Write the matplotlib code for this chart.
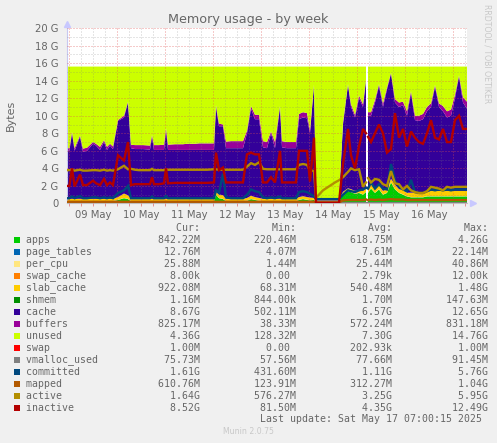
import matplotlib
matplotlib.use("Agg")
import matplotlib.pyplot as plt
import numpy as np
from matplotlib.patches import Rectangle
from matplotlib.ticker import FixedLocator, FuncFormatter

nan = float("nan")

# hours since 8 May 23:00; samples sit closer together around the narrow spikes and the outage
hours = [0, 1.2, 2.5, 3.8, 6.5, 8, 10, 13, 14.5, 16.5, 18.5, 20, 21.5, 23, 25.5, 28.5, 30.5, 32, 34, 36, 38,
         41.5, 42.5, 43.5, 46, 48.5, 49.5, 50.5, 54, 56, 58, 60, 62, 64, 66, 68, 70, 73.5, 74.5, 76, 78,
         79.5, 82, 84, 86, 88, 90, 92, 94, 96, 98, 100, 102, 104, 106.5, 107.5, 110, 112, 114.5, 116, 118,
         120, 121.5, 123.5, 124.5, 128, 130, 132, 134, 136, 138, 140.5, 142, 144, 146, 148, 149.5, 150, 150.5,
         152, 154, 156, 158, 160, 162, 164, 166, 168, 170, 172, 174, 176, 178, 180, 182, 184, 186, 188, 190, 192, 194, 196, 198, 200]
N = len(hours)

# GiB per sample
apps = [.25]*14 + [.4, .6, .5] + [.25]*21 + [1.0, .6, .5] + [.25]*5 + [.3, .5, .4, .3] + [.25]*9 + [.4, .5, .4, .35, .4] \
    + [.22]*6 + [1.0, 1.4, 1.3, 1.1, 1.2, 1.0, 1.3, nan, 1.2, 1.7, 1.2, 1.6, 1.0, 1.2, 2.4, 1.6, 1.2, 1.0, .8, .7, .7, .7, .7, .8] + [.8]*10
slab_cache = [.25]*14 + [.3, .5, .4] + [.25]*21 + [.3, .4, .4] + [.25]*5 + [.3, .35, .3, .3] + [.25]*9 + [.3, .3, .3, .3, .2] \
    + [.1]*6 + [.3, .3, .3, .3, .3, .4, .4, nan, .5, .5, .4, .5, .4, .4, .4, .5, .4, .5, .4, .5, .5, .4, .4, .5] + [.6]*10
cache = [5.47, 5.47, 7.47, 5.47, 7.07, 5.37, 5.47, 6.27, 6.07, 5.57, 6.47, 5.57, 6.07, 5.67, 8.67, 8.67, 10.57, 5.77, 5.67, 5.67, 5.67,
         5.62, 7.07, 5.57, 5.57, 5.57, 7.87, 5.57, 5.57, 5.57, 5.57, 5.57, 5.57, 5.57, 5.57, 5.57, 5.57, 5.57, 9.67, 7.77, 7.87,
         5.77, 5.77, 5.77, 5.77, 5.77, 7.37, 9.92, 8.87, 8.97, 5.87, 5.77, 7.47, 5.77, 10.47, 5.87, 5.77, 5.77, 5.77, 8.87, 8.97,
         8.97, 7.32, 12.87, .2, .2, .2, .2, .2, .25, 7.67, 11.77, 9.37, 8.37, 10.47, 9.57, 12.27, nan, 8.27, 7.77, 9.87,
         11.27, 9.57, 11.37, 11.97, 9.37, 9.37, 9.67, 8.77, 11.37, 8.27, 8.27, 8.47, 9.17, 9.57, 11.87, 9.57, 9.07, 8.37, 8.57, 10.57,
         13.07, 10.07, 9.37]
buffers = [.3, .3, .15, .3, .15, .35, .35, .2, .2, .35, .2, .35, .2, .3, .1, .2, .1, .4, .45, .45, .45,
           .45, .2, .55, .55, .6, .2, .6, .65, .65, .65, .7, .7, .7, .75, .75, .75, .75, .2, .3, .2,
           .75, .8, .8, .8, .8, .3, .3, .5, .5, .7, .7, .2, .7, .1, .7, .7, .7, .7, .6, .6,
           .6, .3, .05, .04, .04, .04, .04, .04, .04, .2, .1, .3, .3, .3, .3, .1, nan, .4, .4, .3,
           .2, .4, .2, .1, .4, .5, .4, .5, .2, .5, .6, .6, .5, .4, .2, .4, .6, .7, .7, .4,
           .1, .6, .8]
unused = [9.3, 9.3, 7.45, 9.3, 7.85, 9.35, 9.25, 8.6, 8.8, 9.15, 8.4, 9.15, 8.8, 9.1, 6.1, 5.6, 4.0, 8.9, 8.95, 8.95, 8.95,
          9.0, 7.8, 8.95, 8.95, 8.9, 7.0, 8.9, 8.85, 8.85, 8.85, 8.8, 8.8, 8.8, 8.75, 8.75, 8.75, 8.75, 4.4, 6.5, 6.6,
          8.55, 8.5, 8.5, 8.5, 8.5, 7.3, 4.5, 5.5, 5.5, 8.5, 8.6, 7.4, 8.6, 4.5, 8.5, 8.6, 8.6, 8.6, 5.4, 5.2,
          5.3, 7.3, 2.05, 15.01, 15.01, 15.01, 15.01, 15.01, 14.96, 6.4, 2.0, 4.3, 5.5, 3.3, 4.3, 1.5, nan, 5.2, 5.2, 3.8,
          2.0, 4.2, 2.4, .7, 3.7, 4.1, 4.0, 5.1, 2.8, 5.6, 5.6, 5.4, 4.6, 4.2, 2.1, 4.2, 4.5, 5.1, 4.9, 3.2,
          1.0, 3.5, 4.0]
committed = [.6, .6, .8, .6, .85, .6, .6, .7, .7, .6, .7, .6, .7, .6, 1.2, 1.5, 2.0, .6, .6, .6, .6,
             .6, .8, .6, .6, .6, .85, .6, .6, .6, .6, .6, .6, .6, .6, .6, .6, .6, 1.5, 1.2, 3.4,
             .7, .6, .6, .6, .6, 1.0, 1.6, 1.4, 1.3, .7, .6, .7, .6, .8, .6, .6, .6, .6, 1.3, 1.4,
             1.3, 1.1, .8, .5, .5, .5, .5, .5, .5, 1.0, 1.5, 1.4, 1.3, 1.5, 1.6, 1.8, nan, 1.7, 2.4, 1.7,
             2.2, 1.7, 1.6, 4.5, 2.6, 1.9, 1.6, 1.4, 2.7, 1.3, 1.2, 1.2, 1.4, 1.6, 1.5, 1.6, 1.5, 1.6, 1.5, 1.6,
             1.6, 1.6, 1.6]
mapped = [.2]*64 + [.13]*6 + [.35, .4, .4, .4, .4, .4, .45, nan, .4, .45, .4, .45, .4, .45, .5, .45, .45, .45, .4, .4, .4, .4, .4, .4] + [.4]*10
active = [3.8, 3.8, 3.85, 3.75, 3.85, 3.75, 3.75, 3.8, 3.8, 3.75, 3.85, 3.75, 3.8, 3.75, 3.9, 4.3, 3.9, 3.95, 3.85, 3.8, 3.8,
          3.8, 3.95, 3.8, 3.8, 3.8, 3.85, 3.85, 3.85, 3.85, 3.85, 3.85, 3.85, 3.85, 3.85, 3.85, 3.85, 3.9, 3.9, 3.85, 3.85,
          3.85, 3.85, 3.85, 3.85, 3.85, 4.2, 4.6, 4.4, 4.7, 3.95, 3.9, 3.9, 3.9, 3.9, 3.9, 3.9, 3.9, 3.9, 4.4, 4.5,
          4.4, 3.8, 3.7, .65, 1.5, 1.8, 2.1, 2.4, 2.65, 3.0, 3.6, 4.0, 3.8, 3.9, 1.9, 2.4, nan, 2.9, 2.4, 2.8,
          2.7, 2.2, 2.0, 3.7, 2.3, 2.2, 1.6, 2.0, 1.5, 1.3, 1.2, 1.2, 1.4, 1.9, 1.8, 1.7, 1.5, 1.9, 1.8, 1.9,
          1.9, 1.9, 1.9]
inactive = [2.0, 2.0, 4.0, 1.95, 3.3, 2.1, 2.1, 2.6, 2.3, 2.1, 2.8, 2.1, 2.4, 2.1, 5.5, 4.9, 7.0, 2.1, 2.2, 2.2, 2.2,
            2.2, 3.0, 2.2, 2.2, 2.3, 4.0, 2.3, 2.35, 2.35, 2.35, 2.35, 2.35, 2.35, 2.35, 2.35, 2.35, 2.4, 5.8, 3.8, 4.1,
            2.4, 2.4, 2.4, 2.4, 2.4, 5.6, 5.8, 5.6, 5.6, 2.4, 2.4, 3.0, 2.4, 6.0, 2.4, 2.4, 2.4, 2.4, 6.0, 6.0,
            6.0, 2.5, 7.5, .08, .08, .08, .08, .08, .08, 4.5, 8.5, 5.5, 4.0, 6.5, 8.5, 8.0, nan, 7.6, 7.0, 8.0,
            9.0, 8.0, 5.8, 6.2, 10.3, 7.5, 8.5, 6.5, 8.2, 7.5, 7.0, 6.8, 8.0, 9.5, 7.5, 7.3, 8.5, 7.0, 7.0, 9.5,
            10.0, 8.5, 8.5]

# these stay flat at this scale
page_tables = [.0076]*N
per_cpu = [.025]*N
swap_cache = [.000003]*N
shmem = [.002]*N
swap = [.0002]*N
vmalloc_used = [.076]*N

area_series = [
    (apps, "#00CC00"), (page_tables, "#0066B3"), (per_cpu, "#FFE680"), (swap_cache, "#FF8000"),
    (slab_cache, "#FFCC00"), (shmem, "#008F00"), (cache, "#330099"), (buffers, "#990099"),
    (unused, "#CCFF00"), (swap, "#FF0000"),
]
line_series = [
    (vmalloc_used, "#808080"), (committed, "#00487D"), (mapped, "#B35A00"), (active, "#B38F00"), (inactive, "#B30000"),
]

legend_names = ["apps", "page_tables", "per_cpu", "swap_cache", "slab_cache", "shmem", "cache", "buffers",
                "unused", "swap", "vmalloc_used", "committed", "mapped", "active", "inactive"]
legend_colors = ["#00CC00", "#0066B3", "#FFE680", "#FF8000", "#FFCC00", "#008F00", "#330099", "#990099",
                 "#CCFF00", "#FF0000", "#808080", "#00487D", "#B35A00", "#B38F00", "#B30000"]
cur_vals = ["842.22M", "12.76M", "25.88M", "8.00k", "922.08M", "1.16M", "8.67G", "825.17M", "4.36G", "1.00M", "75.73M", "1.61G", "610.76M", "1.64G", "8.52G"]
min_vals = ["220.46M", "4.07M", "1.44M", "0.00 ", "68.31M", "844.00k", "502.11M", "38.33M", "128.32M", "0.00 ", "57.56M", "431.60M", "123.91M", "576.27M", "81.50M"]
avg_vals = ["618.75M", "7.61M", "25.44M", "2.79k", "540.48M", "1.70M", "6.57G", "572.24M", "7.30G", "202.93k", "77.66M", "1.11G", "312.27M", "3.25G", "4.35G"]
max_vals = ["4.26G", "22.14M", "40.86M", "12.00k", "1.48G", "147.63M", "12.65G", "831.18M", "14.76G", "1.00M", "91.45M", "5.76G", "1.04G", "5.95G", "12.49G"]

day_labels = ["09 May", "10 May", "11 May", "12 May", "13 May", "14 May", "15 May", "16 May"]

W, H = 497, 443
fig = plt.figure(figsize=(W / 100, H / 100), dpi=100, facecolor="#F0F0F0")
ax = fig.add_axes([67 / W, 1 - 203.5 / H, 400 / W, 175.5 / H], facecolor="white")

# stacked areas
base = np.zeros(N)
for values, color in area_series:
    values = np.array(values)
    top = base + values
    ax.fill_between(hours, base, top, color=color, linewidth=0, zorder=2)
    base = top

# grid sits on top of the areas, like rrdtool
ax.set_xlim(0, 200)
ax.set_ylim(0, 20)
major_x = [1 + 24 * i for i in range(9)]
minor_x = [1 + 6 * i for i in range(34)]
ax.xaxis.set_major_locator(FixedLocator(major_x))
ax.xaxis.set_minor_locator(FixedLocator(minor_x))
ax.yaxis.set_major_locator(FixedLocator(range(0, 21, 2)))
ax.yaxis.set_minor_locator(FixedLocator(range(0, 21)))
ax.grid(which="minor", color="#7F7F7F", alpha=.4, linewidth=.72, linestyle=(0, (1, 2)), zorder=3)
ax.grid(which="major", color="#E05050", alpha=.6, linewidth=.72, linestyle=(0, (1, 2)), zorder=3)
ax.set_axisbelow(False)

for values, color in line_series:
    ax.plot(hours, values, color=color, linewidth=1.7, zorder=4, solid_joinstyle="miter")

ax.yaxis.set_major_formatter(FuncFormatter(lambda v, pos: "0" if v == 0 else "%d G" % v))
ax.xaxis.set_major_formatter(FuncFormatter(lambda v, pos: ""))
ax.tick_params(which="both", length=2, width=.6, color="#E08080", labelcolor="#666666", labelsize=7.2, pad=3)
ax.tick_params(axis="y", which="both", length=0, pad=6)
for i, label in enumerate(day_labels):
    ax.text(13 + 24 * i, -.75, label, ha="center", va="top", fontsize=7.2, color="#666666")

for side in ["top", "right"]:
    ax.spines[side].set_visible(False)
ax.spines["left"].set_color("#C8C8F0")
ax.spines["bottom"].set_color("#C0C0C0")
ax.plot(0, 20.5, marker="^", color="#C8C8FF", markersize=4, clip_on=False, zorder=5)
ax.plot(203, 0, marker=">", color="#C8C8FF", markersize=4, clip_on=False, zorder=5)

# text outside the axes, positions in pixels from the top left
def put(x, y, s, **kw):
    fig.text(x / W, 1 - y / H, s, **kw)

put(248, 20, "Memory usage - by week", ha="center", va="center", fontsize=9.2, color="#666666")
put(10.5, 115, "Bytes", ha="center", va="center", rotation=90, fontsize=8, color="#666666")
put(487, 53.5, "RRDTOOL / TOBI OETIKER", ha="center", va="center", rotation=270, fontsize=5.6, color="#C8C8C8")

mono = dict(family="DejaVu Sans Mono", fontsize=7.1, color="#666666", va="center")
header = " " * 25 + "Cur:" + " " * 12 + "Min:" + " " * 12 + "Avg:" + " " * 12 + "Max:"
put(26, 228, header, ha="left", **mono)
for i, name in enumerate(legend_names):
    y = 240 + 12 * i
    fig.add_artist(Rectangle((14 / W, 1 - (y + 3) / H), 6 / W, 6 / H, transform=fig.transFigure, facecolor=legend_colors[i], edgecolor="none"))
    row = f"{name:<20}{cur_vals[i]:>9}{min_vals[i]:>16}{avg_vals[i]:>16}{max_vals[i]:>16}"
    put(26, y, row, ha="left", **mono)
put(482.5, 419.5, "Last update: Sat May 17 07:00:15 2025", ha="right", **mono)
put(248, 432, "Munin 2.0.75", ha="center", va="center", fontsize=5.6, color="#C8C8C8")

fig.savefig("out.png", dpi=100, facecolor=fig.get_facecolor())
